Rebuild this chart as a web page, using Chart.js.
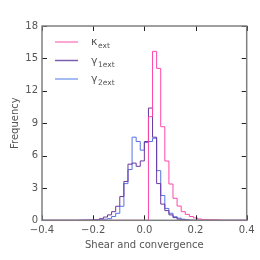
<!DOCTYPE html>
<html>
<head>
<meta charset="utf-8">
<script src="https://cdn.jsdelivr.net/npm/chart.js@4"></script>
<style>
html, body { margin: 0; padding: 0; background: #fff; }
#wrap { width: 260px; height: 260px; }
</style>
</head>
<body>
<div id="wrap"><canvas id="histChart"></canvas></div>
<script>
// histogram bins: 50 bins from -0.4 to 0.4
const binStart = -0.4;
const binWidth = 0.016;

const kappaExt = [
  0, 0, 0, 0, 0, 0, 0, 0, 0, 0,
  0, 0, 0, 0, 0, 0, 0, 0, 0, 0,
  0, 0, 0, 0, 0, 0, 9.6, 15.65, 14.07, 8.67,
  5.49, 3.36, 2.04, 1.32, 0.8, 0.55, 0.35, 0.22, 0.12, 0.06,
  0.06, 0.05, 0.04, 0.02, 0, 0, 0, 0, 0, 0
];
const gamma1Ext = [
  0, 0, 0, 0, 0, 0, 0, 0, 0, 0.01,
  0.02, 0.02, 0.03, 0.05, 0.15, 0.3, 0.5, 0.8, 1.3, 2.2,
  3.6, 5.2, 5.3, 5.0, 5.5, 7.3, 10.4, 7.7, 3.4, 1.5,
  0.9, 0.5, 0.25, 0.1, 0.05, 0.02, 0, 0, 0, 0,
  0, 0, 0, 0, 0, 0, 0, 0, 0, 0
];
const gamma2Ext = [
  0, 0, 0, 0, 0, 0, 0, 0, 0, 0,
  0, 0.01, 0.02, 0.03, 0.05, 0.1, 0.15, 0.35, 0.65, 1.3,
  3.4, 4.7, 7.7, 7.3, 6.5, 7.2, 7.3, 7.6, 4.6, 2.3,
  1.1, 0.65, 0.33, 0.2, 0.1, 0.05, 0.02, 0, 0, 0,
  0, 0, 0, 0, 0, 0, 0, 0, 0, 0
];

const xTicks = [-0.4, -0.2, 0.0, 0.2, 0.4];
const yTicks = [0, 3, 6, 9, 12, 15, 18];

const pink = 'rgb(255,70,170)';
const purple = 'rgb(105,55,160)';
const blue = 'rgb(85,115,230)';

// outline like a step histogram: up at first edge, down at last edge
function stepPoints(values) {
  const pts = [{x: binStart, y: 0}];
  values.forEach((v, i) => pts.push({x: binStart + i * binWidth, y: v}));
  const end = binStart + values.length * binWidth;
  pts.push({x: end, y: values[values.length - 1]});
  pts.push({x: end, y: 0});
  return pts;
}

const legendItems = [
  {sym: 'κ', sub: 'ext', color: 'rgb(255,135,200)'},
  {sym: 'γ', sub: '1ext', color: 'rgb(125,95,175)'},
  {sym: 'γ', sub: '2ext', color: 'rgb(135,165,240)'}
];

const frame = {
  id: 'frame',
  afterDraw(chart) {
    const {ctx, chartArea: a, scales} = chart;
    ctx.save();
    ctx.strokeStyle = '#222';
    ctx.lineWidth = 1;
    const len = 5;
    scales.x.ticks.forEach(t => {
      const px = Math.round(scales.x.getPixelForValue(t.value)) + 0.5;
      ctx.beginPath();
      ctx.moveTo(px, a.bottom); ctx.lineTo(px, a.bottom - len);
      ctx.moveTo(px, a.top); ctx.lineTo(px, a.top + len);
      ctx.stroke();
    });
    scales.y.ticks.forEach(t => {
      const py = Math.round(scales.y.getPixelForValue(t.value)) + 0.5;
      ctx.beginPath();
      ctx.moveTo(a.left, py); ctx.lineTo(a.left + len, py);
      ctx.moveTo(a.right, py); ctx.lineTo(a.right - len, py);
      ctx.stroke();
    });
    ctx.strokeStyle = '#808080';
    ctx.lineWidth = 1.5;
    ctx.strokeRect(a.left, a.top, a.right - a.left, a.bottom - a.top);

    // legend with subscripts
    legendItems.forEach((item, i) => {
      const y = 42 + i * 18.5;
      ctx.strokeStyle = item.color;
      ctx.lineWidth = 1.5;
      ctx.beginPath();
      ctx.moveTo(55, y); ctx.lineTo(78, y);
      ctx.stroke();
      ctx.fillStyle = '#555';
      ctx.textBaseline = 'alphabetic';
      ctx.font = '11px "DejaVu Sans"';
      ctx.fillText(item.sym, 91, y + 3);
      const w = ctx.measureText(item.sym).width;
      ctx.font = '7.5px "DejaVu Sans"';
      ctx.fillText(item.sub, 91 + w + 0.5, y + 6);
    });
    ctx.restore();
  }
};

const histChart = document.getElementById('histChart');
new Chart(histChart, {
  type: 'line',
  data: {
    datasets: [
      {label: 'kappa_ext', data: stepPoints(kappaExt), borderColor: pink},
      {label: 'gamma1_ext', data: stepPoints(gamma1Ext), borderColor: purple},
      {label: 'gamma2_ext', data: stepPoints(gamma2Ext), borderColor: blue}
    ]
  },
  options: {
    responsive: true,
    maintainAspectRatio: false,
    animation: false,
    layout: {padding: {left: 0, right: 13.3, top: 26, bottom: 0}},
    elements: {
      line: {borderWidth: 1, stepped: 'before', tension: 0, fill: false},
      point: {radius: 0, hoverRadius: 0}
    },
    plugins: {
      legend: {display: false},
      tooltip: {enabled: false}
    },
    scales: {
      x: {
        type: 'linear',
        min: -0.4,
        max: 0.4,
        afterFit: s => { s.height = 39.7; },
        afterBuildTicks: s => { s.ticks = xTicks.map(v => ({value: v})); },
        grid: {display: false, drawTicks: false},
        border: {display: false},
        ticks: {
          padding: 4,
          color: '#555',
          font: {family: 'DejaVu Sans', size: 10},
          maxRotation: 0,
          callback: v => {
            const n = Math.abs(v) < 1e-9 ? 0 : v;
            return (n < 0 ? '\u2212' : '') + Math.abs(n).toFixed(1);
          }
        },
        title: {
          display: true,
          text: 'Shear and convergence',
          color: '#555',
          font: {family: 'DejaVu Sans', size: 10},
          padding: {top: 0, bottom: 9}
        }
      },
      y: {
        min: 0,
        max: 18,
        afterFit: s => { s.width = 42; },
        afterBuildTicks: s => { s.ticks = yTicks.map(v => ({value: v})); },
        grid: {display: false, drawTicks: false},
        border: {display: false},
        ticks: {
          padding: 4,
          color: '#555',
          font: {family: 'DejaVu Sans', size: 10}
        },
        title: {
          display: true,
          text: 'Frequency',
          color: '#555',
          font: {family: 'DejaVu Sans', size: 10},
          padding: {top: 9, bottom: 0}
        }
      }
    }
  },
  plugins: [frame]
});
</script>
</body>
</html>
